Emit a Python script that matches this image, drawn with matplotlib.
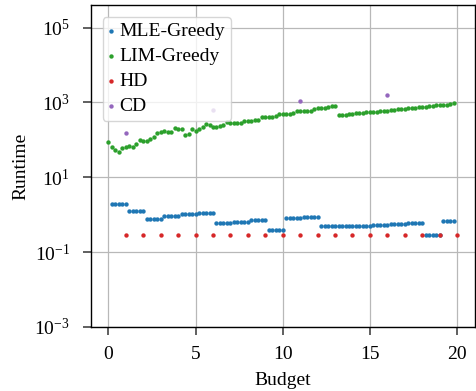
import numpy as np
import matplotlib
matplotlib.use("Agg")
import matplotlib.pyplot as plt
from matplotlib.ticker import FixedLocator

plt.rcParams['font.family'] = ['Liberation Serif', 'DejaVu Serif']
plt.rcParams['mathtext.fontset'] = 'stix'

# ---- data ----
lim_x = np.round(np.arange(0, 100) * 0.2, 1)
lim_greedy = [88, 64, 54, 46, 60, 66, 70, 63, 77, 99,
              95, 93, 105, 119, 149, 158, 172, 165, 158, 211,
              194, 194, 132, 140, 194, 172, 194, 220, 259, 254,
              224, 226, 238, 255, 305, 287, 275, 275, 275, 318,
              324, 324, 331, 338, 398, 406, 406, 415, 423, 479,
              479, 489, 489, 520, 575, 575, 587, 587, 599, 678,
              692, 692, 706, 736, 782, 798,
              450, 459, 469, 499, 499, 509, 509, 519, 541, 552,
              552, 564, 575, 600, 600, 612, 624, 650, 678, 678,
              692, 706, 721, 750, 766, 766, 782, 798, 832, 832,
              849, 849, 885, 940]

mle_budget_values = [1.9, 1.29, 0.76, 0.91, 1.03, 1.12, 0.61, 0.645, 0.73, 0.39,
                     0.79, 0.875, 0.50, 0.50, 0.51, 0.54, 0.56, 0.58, 0.284, 0.66]
mle_counts = [5] * 19 + [4]
mle_x = np.round(np.arange(1, 100) * 0.2, 1)
mle_greedy = np.repeat(mle_budget_values, mle_counts)

hd_x = list(range(1, 21))
hd = [0.29] * 20

cd_x = [1, 6, 11, 16]
cd = [152, 620, 1100, 1570]

# ---- plot ----
fig = plt.figure(figsize=(4.76, 3.91), dpi=100)
ax = fig.add_axes([0.191, 0.164, 0.806, 0.823])

s = 10
ax.scatter(mle_x, mle_greedy, s=s, color='tab:blue', label='MLE-Greedy', zorder=3, linewidths=0)
ax.scatter(lim_x, lim_greedy, s=s, color='tab:green', label='LIM-Greedy', zorder=3, linewidths=0)
ax.scatter(hd_x, hd, s=s, color='tab:red', label='HD', zorder=3, linewidths=0)
ax.scatter(cd_x, cd, s=s, color='tab:purple', label='CD', zorder=3, linewidths=0)

ax.set_yscale('log')
ax.set_ylim(1e-3, 4e5)
ax.set_xlim(-1, 21)
ax.yaxis.set_major_locator(FixedLocator([1e-3, 1e-1, 1e1, 1e3, 1e5]))
ax.yaxis.set_minor_locator(FixedLocator([]))
ax.set_xticks([0, 5, 10, 15, 20])
ax.grid(True, color='#b8b8b8', linewidth=0.9, zorder=0)
ax.set_axisbelow(True)
ax.tick_params(labelsize=14, length=6, width=1.2, pad=8, color='#444444')
ax.tick_params(axis='y', pad=9)
for sp in ax.spines.values():
    sp.set_linewidth(1.0)

ax.set_xlabel('Budget', fontsize=14, labelpad=6)
ax.set_ylabel('Runtime', fontsize=14, labelpad=4)

leg = ax.legend(loc='upper left', fontsize=14, handlelength=0.3, handletextpad=0.25,
                labelspacing=0.38, borderpad=0.3, borderaxespad=0.6,
                scatterpoints=1, markerscale=1.0)
leg.set_zorder(5)

fig.savefig('out.png', dpi=100)
